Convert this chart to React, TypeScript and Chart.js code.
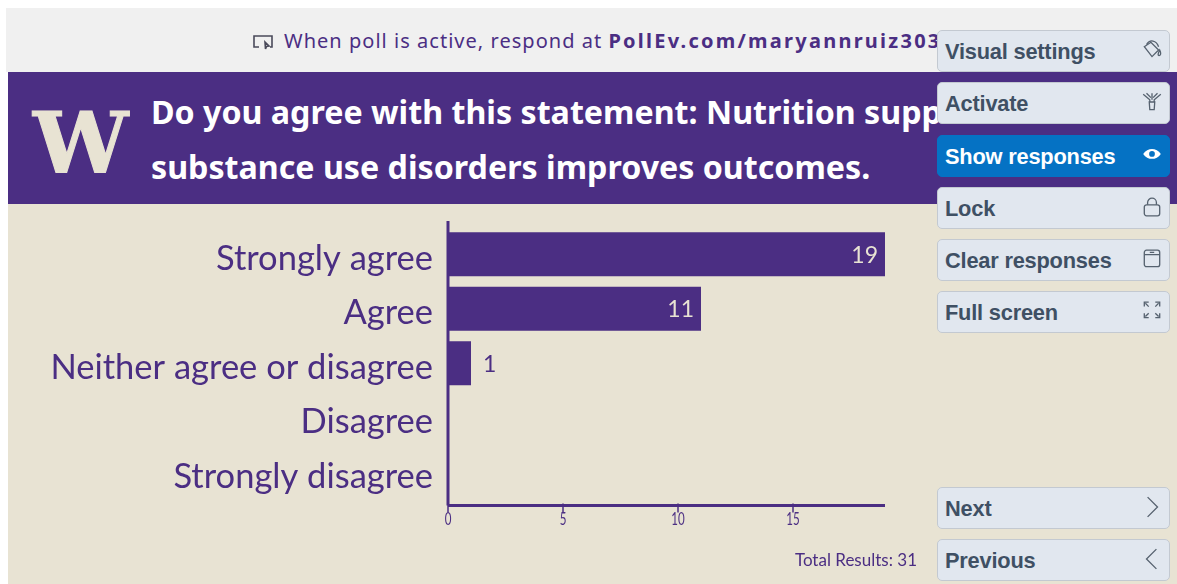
import React, { useEffect, useRef } from "react";
import { Chart, registerables } from "chart.js";

Chart.register(...registerables);

const categories = ["Strongly agree", "Agree", "Neither agree or disagree", "Disagree", "Strongly disagree"];
const responses = [19, 11, 1, 0, 0];
const axisTicks = [0, 5, 10, 15];
const axisMax = 19;

const topButtons = ["Visual settings", "Activate", "Show responses", "Lock", "Clear responses", "Full screen"];
const bottomButtons = ["Next", "Previous"];

const PURPLE = "#4b2e83";
const BEIGE = "#e8e3d3";
const FONT = "Lato, 'Noto Sans', sans-serif";

// Axis rails, tick marks, tick numbers and response counts sit outside the stock scale drawing.
const pollDecor = {
  id: "pollDecor",
  afterDatasetsDraw(chart: any) {
    const { ctx, chartArea, scales } = chart;
    const overhang = 6;
    const baseY = chartArea.bottom + overhang;
    ctx.save();
    ctx.strokeStyle = PURPLE;
    ctx.lineWidth = 3;
    ctx.beginPath();
    ctx.moveTo(chartArea.left, chartArea.top - overhang);
    ctx.lineTo(chartArea.left, baseY);
    ctx.moveTo(chartArea.left, baseY);
    ctx.lineTo(chartArea.right, baseY);
    ctx.stroke();
    ctx.fillStyle = PURPLE;
    ctx.textAlign = "center";
    ctx.textBaseline = "middle";
    ctx.font = `17px ${FONT}`;
    scales.x.ticks.forEach((t: any) => {
      const x = scales.x.getPixelForValue(t.value);
      ctx.lineWidth = 1.5;
      ctx.beginPath();
      ctx.moveTo(x, baseY - 2);
      ctx.lineTo(x, baseY + 7);
      ctx.stroke();
      // The axis numbers are tall and narrow, so squeeze them horizontally.
      ctx.save();
      ctx.translate(x, baseY + 14);
      ctx.scale(0.68, 1);
      ctx.fillText(String(t.value), 0, 0);
      ctx.restore();
    });
    ctx.font = `23px ${FONT}`;
    chart.getDatasetMeta(0).data.forEach((bar: any, i: number) => {
      const v = responses[i];
      if (!v) return;
      const inside = v > 1;
      ctx.textAlign = inside ? "right" : "left";
      ctx.fillStyle = inside ? BEIGE : PURPLE;
      ctx.fillText(String(v), bar.x + (inside ? -7 : 12), bar.y + 1);
    });
    ctx.restore();
  },
};

function ButtonIcon({ label, color }: { label: string; color: string }) {
  const common = { fill: "none", stroke: color, strokeWidth: 1.2 };
  const shapes: Record<string, React.ReactNode> = {
    "Visual settings": (
      <g {...common}>
        <path d="M2 7 L8 3 L15 10 L9 16 Z" />
        <path d="M4 5 C7 0 13 1 15 7" />
        <path d="M16 10 C17.5 13 17 15 15.5 15 C14 15 14.5 13 16 10 Z" />
      </g>
    ),
    Activate: (
      <g {...common}>
        <path d="M1 3 L7 8 V10 M17 3 L11 8 V10 M4 2 L8 6 M14 2 L10 6 M6.5 10 H11.5 L11 17 H7 Z" />
        <path d="M9 2 V8" />
      </g>
    ),
    "Show responses": (
      <g>
        <path d="M1 9 C5 3 13 3 17 9 C13 15 5 15 1 9 Z" fill={color} />
        <circle cx="9" cy="9" r="2.6" fill="#0572c4" />
      </g>
    ),
    Lock: (
      <g {...common}>
        <rect x="2" y="8" width="14" height="10" rx="2" />
        <path d="M5 8 V6 A4 4 0 0 1 13 6 V8" />
      </g>
    ),
    "Clear responses": (
      <g {...common}>
        <rect x="2" y="2" width="14" height="15" rx="2" />
        <path d="M2 6 H16 M7 4 H11" />
      </g>
    ),
    "Full screen": (
      <g {...common}>
        <path d="M2 6 V2 H6 M12 2 H16 V6 M2 12 V16 H6 M12 16 H16 V12 M3 3 L6 6 M15 3 L12 6 M3 15 L6 12 M15 15 L12 12" />
      </g>
    ),
    Next: <path d="M5 1 L14 10 L5 19" {...common} />,
    Previous: <path d="M13 1 L4 10 L13 19" {...common} />,
  };
  return (
    <svg width="20" height="22" viewBox="0 0 18 20" style={{ position: "absolute", right: 7, top: 8 }}>
      {shapes[label]}
    </svg>
  );
}

function SideButton({ label, top }: { label: string; top: number }) {
  const active = label === "Show responses";
  const color = active ? "#ffffff" : "#3f5064";
  return (
    <div
      style={{
        position: "absolute",
        left: 937,
        top,
        width: 233,
        height: 42,
        boxSizing: "border-box",
        borderRadius: 5,
        background: active ? "#0572c4" : "#e1e7ef",
        border: active ? "1px solid #0572c4" : "1px solid #c3c9d1",
        color,
        font: "bold 21.8px 'Liberation Sans', sans-serif",
        lineHeight: "41px",
        paddingLeft: 7,
        letterSpacing: -0.2,
      }}
    >
      {label}
      <ButtonIcon label={label} color={active ? "#ffffff" : "#56626f"} />
    </div>
  );
}

export default function App() {
  const canvasRef = useRef<HTMLCanvasElement>(null);

  useEffect(() => {
    const chart = new Chart(canvasRef.current!, {
      type: "bar",
      data: {
        labels: categories,
        datasets: [
          {
            data: responses,
            backgroundColor: PURPLE,
            barPercentage: 0.81,
            categoryPercentage: 1,
          },
        ],
      },
      plugins: [pollDecor],
      options: {
        indexAxis: "y",
        animation: false,
        responsive: false,
        layout: { padding: { left: 0, right: 292, top: 227, bottom: 64.5 } },
        plugins: { legend: { display: false }, tooltip: { enabled: false } },
        scales: {
          x: {
            min: 0,
            max: axisMax,
            grid: { display: false },
            border: { display: false },
            afterBuildTicks: (scale: any) => {
              scale.ticks = axisTicks.map((value) => ({ value }));
            },
            afterFit: (scale: any) => {
              scale.height = 20;
            },
            ticks: { display: false },
          },
          y: {
            grid: { display: false },
            border: { display: false },
            afterFit: (scale: any) => {
              scale.width = 448;
            },
            ticks: {
              color: PURPLE,
              padding: 7,
              labelOffset: 4.5,
              font: { family: FONT, size: 34.5 },
            },
          },
        },
      },
    });
    return () => chart.destroy();
  }, []);

  return (
    <div style={{ position: "absolute", left: 0, top: 0, width: 1177, height: 584, overflow: "hidden", background: "#fff" }}>
      <div style={{ position: "absolute", left: 6, top: 8, right: 0, height: 64, background: "#f0f0f0" }} />
      <div style={{ position: "absolute", left: 8, top: 72, right: 0, height: 132, background: PURPLE }} />
      <div style={{ position: "absolute", left: 8, top: 204, right: 0, bottom: 0, background: BEIGE }} />

      <svg width="22" height="16" viewBox="0 0 22 16" style={{ position: "absolute", left: 252, top: 34 }}>
        <path d="M7 13 H2 V2 H20 V13 H18 M13 8 L17 12 L14.5 12.5 L13.5 15 Z" fill="none" stroke="#4a4a5a" strokeWidth="1.6" />
      </svg>
      <div
        style={{
          position: "absolute",
          left: 284,
          top: 28,
          whiteSpace: "nowrap",
          color: PURPLE,
          font: "20px 'Noto Sans', sans-serif",
          lineHeight: "26px",
          letterSpacing: 1.03,
        }}
      >
        When poll is active, respond at <b style={{ letterSpacing: 2.25 }}>PollEv.com/maryannruiz303</b>
      </div>

      <div
        style={{
          position: "absolute",
          left: 33,
          top: 81,
          color: BEIGE,
          font: "bold 85px 'DejaVu Serif', serif",
          lineHeight: "124px",
          WebkitTextStroke: `1px ${BEIGE}`,
        }}
      >
        W
      </div>
      <div
        style={{
          position: "absolute",
          left: 151,
          top: 84,
          width: 1000,
          color: "#ffffff",
          font: "bold 32.2px 'Noto Sans', sans-serif",
          lineHeight: "55px",
        }}
      >
        Do you agree with this statement: Nutrition support in
        <br />
        substance use disorders improves outcomes.
      </div>

      <canvas ref={canvasRef} width={1177} height={584} style={{ position: "absolute", left: 0, top: 0 }} />

      <div
        style={{
          position: "absolute",
          right: 260,
          top: 550,
          color: PURPLE,
          font: `17px ${FONT}`,
          lineHeight: "20px",
        }}
      >
        Total Results: {responses.reduce((a, b) => a + b, 0)}
      </div>

      {topButtons.map((label, i) => (
        <SideButton key={label} label={label} top={[30, 82, 135, 187, 239, 291][i]} />
      ))}
      {bottomButtons.map((label, i) => (
        <SideButton key={label} label={label} top={[487, 539][i]} />
      ))}
    </div>
  );
}
